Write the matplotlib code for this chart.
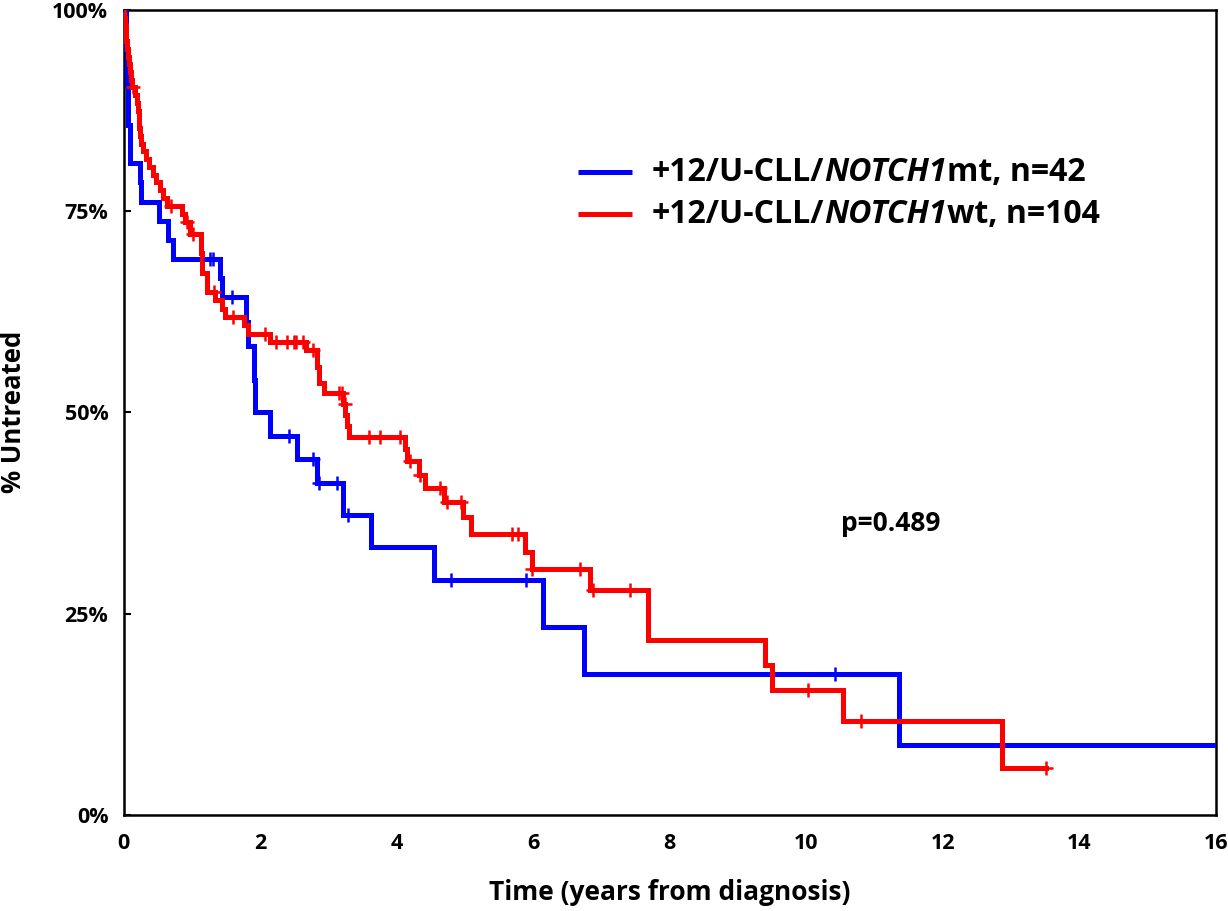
import numpy as np
import matplotlib
matplotlib.use("Agg")
import matplotlib.pyplot as plt

# ---------------- data ----------------
# +12/U-CLL/NOTCH1mt (blue): step times (years) and survival (%) after each step
mt_times = [0.0, 0.03, 0.05, 0.07, 0.09, 0.24, 0.26, 0.52, 0.65, 0.73, 1.42, 1.44,
            1.79, 1.83, 1.91, 1.93, 2.14, 2.54, 2.83, 3.22, 3.62, 4.55, 6.15, 6.74, 11.36]
mt_surv = [100.0, 95.2, 90.5, 85.7, 81.0, 78.6, 76.2, 73.8, 71.4, 69.0, 66.7, 64.3,
           61.2, 58.3, 54.0, 50.0, 47.1, 44.2, 41.2, 37.3, 33.3, 29.2, 23.3, 17.5, 8.7]
mt_end = 16.0
mt_censor = [1.26, 1.31, 1.585, 2.43, 2.77, 2.86, 3.13, 3.29, 4.80, 5.89, 10.42]

# +12/U-CLL/NOTCH1wt (red)
wt_times = [0.0, 0.01, 0.02, 0.03, 0.04, 0.05, 0.06, 0.08, 0.10, 0.11, 0.12, 0.17,
            0.19, 0.21, 0.22, 0.23, 0.24, 0.25, 0.29, 0.33, 0.38, 0.43, 0.48, 0.53,
            0.58, 0.63, 0.85, 0.90, 0.97, 1.14, 1.15, 1.22, 1.34, 1.44, 1.49, 1.76,
            1.83, 2.15, 2.68, 2.83, 2.86, 2.93, 3.22, 3.25, 3.28, 3.31, 4.13, 4.15,
            4.33, 4.41, 4.69, 4.97, 5.09, 5.88, 5.99, 6.83, 7.68, 9.40, 9.50, 10.54,
            12.87]
wt_surv = [100.0, 99.0, 98.1, 97.1, 96.2, 95.2, 94.2, 93.3, 92.3, 91.3, 90.4, 89.4,
           88.4, 87.4, 86.4, 85.4, 84.4, 83.4, 82.5, 81.5, 80.5, 79.5, 78.6, 77.6,
           76.6, 75.6, 74.7, 73.7, 72.2, 69.8, 67.3, 65.0, 64.0, 62.9, 61.9, 60.9,
           59.8, 58.8, 57.7, 55.6, 53.6, 52.4, 51.1, 49.7, 48.3, 47.0, 45.5, 43.9,
           42.2, 40.6, 38.8, 37.0, 34.9, 32.6, 30.5, 27.9, 21.7, 18.6, 15.5, 11.6,
           5.8]
wt_end = 13.52
wt_censor = [0.145, 0.70, 0.93, 1.02, 1.32, 1.61, 2.07, 2.23, 2.40, 2.49, 2.53, 2.63,
             2.78, 3.15, 3.20, 3.24, 3.59, 3.76, 4.05, 4.19, 4.34, 4.63, 4.74, 4.94,
             5.69, 5.78, 5.99, 6.68, 6.88, 7.42, 10.02, 10.80, 13.52]

mt_label = ["+12/U-CLL/", "NOTCH1", "mt, n=42"]
wt_label = ["+12/U-CLL/", "NOTCH1", "wt, n=104"]
p_text = "p=0.489"
x_ticks = [0, 2, 4, 6, 8, 10, 12, 14, 16]
y_ticks = [0, 25, 50, 75, 100]
y_ticklabels = ["0%", "25%", "50%", "75%", "100%"]
x_title = "Time (years from diagnosis)"
y_title = "% Untreated"

BLUE = "#0000FF"
RED = "#FF0000"
FONT = "Open Sans"

plt.rcParams["font.family"] = [FONT, "DejaVu Sans"]
plt.rcParams["font.weight"] = "bold"

fig = plt.figure(figsize=(12.28, 9.11), dpi=100)
ax = fig.add_axes([0.1006, 0.1057, 0.8894, 0.8833])


def surv_at(times, surv, t):
    i = np.searchsorted(times, t, side="right") - 1
    return np.asarray(surv)[i]


def draw(times, surv, end, censor, color):
    xs = list(times) + [end]
    ys = list(surv) + [surv[-1]]
    ax.step(xs, ys, where="post", color=color, lw=3.6, solid_joinstyle="miter", zorder=3)
    cy = [surv_at(times, surv, c) for c in censor]
    ax.plot(censor, cy, ls="none", marker="+", ms=10, mew=1.8, color=color, zorder=4)


draw(mt_times, mt_surv, mt_end, mt_censor, BLUE)
draw(wt_times, wt_surv, wt_end, wt_censor, RED)

ax.set_xlim(0, 16)
ax.set_ylim(0, 100)
ax.set_xticks(x_ticks)
ax.set_xticklabels([str(v) for v in x_ticks], fontsize=15.5, fontweight="bold")
ax.set_yticks(y_ticks)
ax.set_yticklabels(y_ticklabels, fontsize=15.5, fontweight="bold")
ax.tick_params(axis="x", length=0, pad=13)
ax.tick_params(axis="y", direction="in", length=5, width=1.5, pad=11)
for s in ax.spines.values():
    s.set_linewidth(1.8)
    s.set_color("black")

ax.set_xlabel(x_title, fontsize=19, fontweight="bold", labelpad=18)
ax.set_ylabel(y_title, fontsize=18.5, fontweight="bold", labelpad=18)

# legend (manual, for mixed italic text)
for ypos, color, parts in [(0.7987, BLUE, mt_label), (0.7464, RED, wt_label)]:
    ax.plot([0.416, 0.4655], [ypos, ypos], transform=ax.transAxes, color=color,
            lw=3.6, solid_capstyle="butt", clip_on=False)
    t1 = ax.text(0.4839, ypos, parts[0], transform=ax.transAxes, fontsize=23,
                 fontweight="bold", va="center", ha="left")
    t2 = ax.annotate(parts[1], xy=(1, 0), xycoords=t1, va="bottom", ha="left",
                     fontsize=23, fontweight="bold", fontstyle="italic")
    ax.annotate(parts[2], xy=(1, 0), xycoords=t2, va="bottom", ha="left",
                fontsize=23, fontweight="bold")

ax.text(0.7027, 0.3625, p_text, transform=ax.transAxes, fontsize=19,
        fontweight="bold", ha="center", va="center")

fig.savefig("out.png", dpi=100)
